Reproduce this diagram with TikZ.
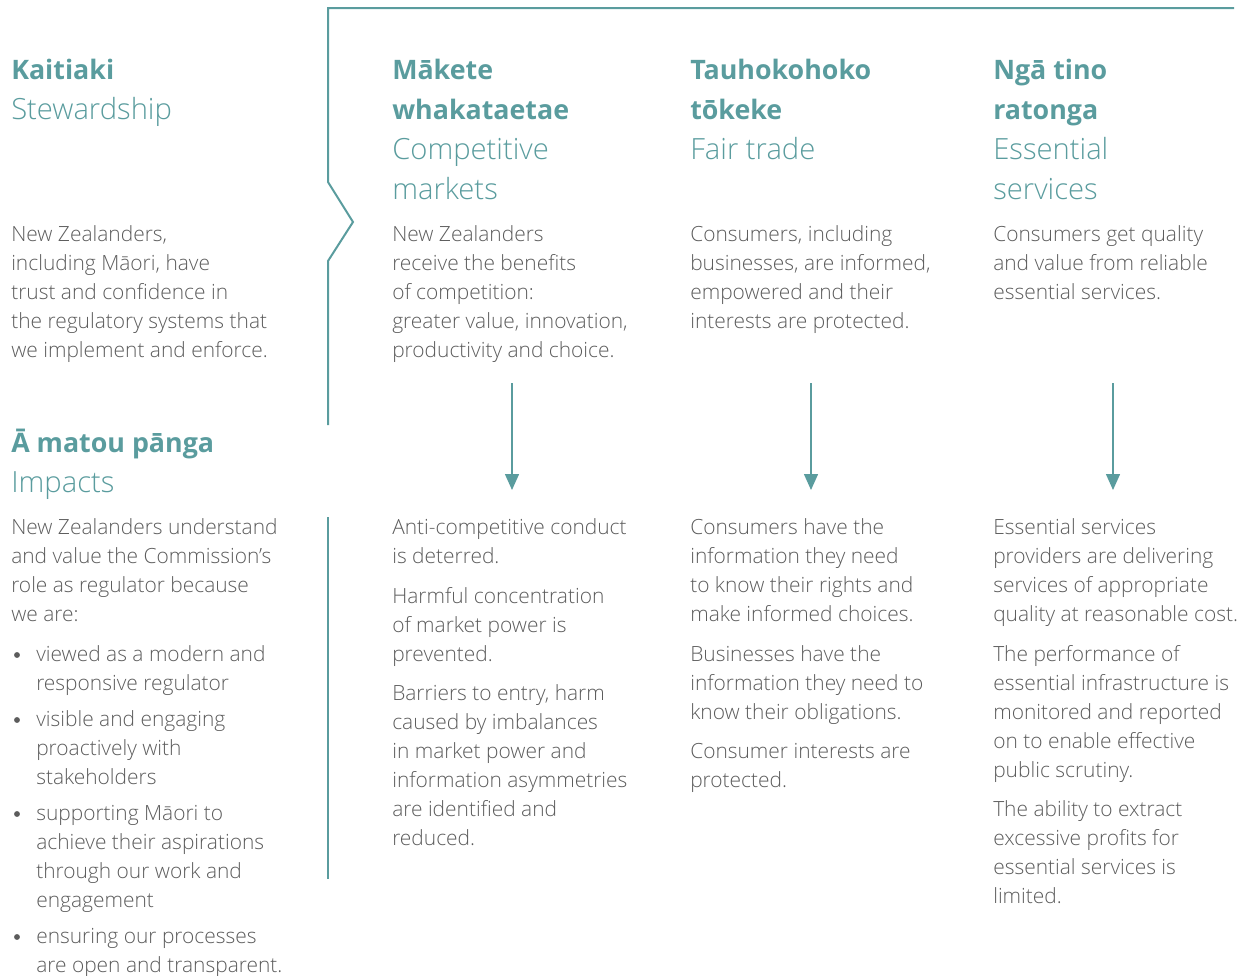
\documentclass[tikz,border=0pt]{standalone}
\usepackage{fontspec}
\setmainfont{Open Sans}[UprightFont={* Light},BoldFont={* Bold}]
\usetikzlibrary{arrows.meta}

\definecolor{brandteal}{HTML}{5A9C9E}
\definecolor{bodygray}{HTML}{5C5C5C}

% a paragraph whose reference point is the baseline of its first line
\newcommand{\parblock}[1]{\parbox[t]{330pt}{\raggedright #1}}
% heading lines: bold Māori title, light English subtitle
\newcommand{\titleline}[1]{{\fontsize{20.1}{30}\selectfont\bfseries #1}}

\tikzset{
  body/.style={anchor=base west, inner sep=0pt, text=bodygray,
    font=\fontsize{15.7}{21.75}\selectfont},
  head/.style={anchor=base west, inner sep=0pt, text=brandteal,
    font=\fontsize{21.9}{30}\selectfont},
  rule/.style={draw=brandteal, line width=1.5pt},
  flow/.style={draw=brandteal, line width=1.1pt,
    -{Triangle[width=10.5pt,length=12pt]}},
  dot/.style={circle, fill=bodygray, inner sep=0pt, minimum size=4.4pt},
}

\begin{document}
\begin{tikzpicture}[x=0.75pt,y=-0.75pt]
\useasboundingbox (0,0) rectangle (1246,975);

% ---- outcome headings ----
\node[head] (hK) at (11,79) {\parblock{\titleline{Kaitiaki}\\Stewardship}};
\node[head] (hM) at (392,79) {\parblock{\titleline{Mākete}\\\titleline{whakataetae}\\Competitive\\markets}};
\node[head] (hT) at (690,79) {\parblock{\titleline{Tauhokohoko}\\\titleline{tōkeke}\\Fair trade}};
\node[head] (hN) at (993,79) {\parblock{\titleline{Ngā tino}\\\titleline{ratonga}\\Essential\\services}};

% ---- outcome statements ----
\node[body] (oK) at (11,241) {\parblock{New Zealanders,\\including Māori, have\\trust and confidence in\\the regulatory systems that\\we implement and enforce.}};
\node[body] (oM) at (392,241) {\parblock{New Zealanders\\receive the benefits\\of competition:\\greater value, innovation,\\productivity and choice.}};
\node[body] (oT) at (690,241) {\parblock{Consumers, including\\businesses, are informed,\\empowered and their\\interests are protected.}};
\node[body] (oN) at (993,241) {\parblock{Consumers get quality\\and value from reliable\\essential services.}};

% ---- impacts heading ----
\node[head] (hI) at (11,452) {\parblock{\titleline{Ā matou pānga}\\Impacts}};

% ---- impacts, left column ----
\node[body] (iK1) at (11,534) {\parblock{New Zealanders understand\\and value the Commission’s\\role as regulator because\\we are:}};
\node[dot] (bK1) at (17,655) {};
\node[body] (iK2) at (36,661) {\parblock{viewed as a modern and\\responsive regulator}};
\node[dot] (bK2) at (17,720) {};
\node[body] (iK3) at (36,726) {\parblock{visible and engaging\\proactively with\\stakeholders}};
\node[dot] (bK3) at (17,814) {};
\node[body] (iK4) at (36,820) {\parblock{supporting Māori to\\achieve their aspirations\\through our work and\\engagement}};
\node[dot] (bK4) at (17,937) {};
\node[body] (iK5) at (36,943) {\parblock{ensuring our processes\\are open and transparent.}};

% ---- impacts, competitive markets ----
\node[body] (iM1) at (392,534) {\parblock{Anti-competitive conduct\\is deterred.}};
\node[body] (iM2) at (392,603) {\parblock{Harmful concentration\\of market power is\\prevented.}};
\node[body] (iM3) at (392,700) {\parblock{Barriers to entry, harm\\caused by imbalances\\in market power and\\information asymmetries\\are identified and\\reduced.}};

% ---- impacts, fair trade ----
\node[body] (iT1) at (690,534) {\parblock{Consumers have the\\information they need\\to know their rights and\\make informed choices.}};
\node[body] (iT2) at (690,661) {\parblock{Businesses have the\\information they need to\\know their obligations.}};
\node[body] (iT3) at (690,758) {\parblock{Consumer interests are\\protected.}};

% ---- impacts, essential services ----
\node[body] (iN1) at (993,534) {\parblock{Essential services\\providers are delivering\\services of appropriate\\quality at reasonable cost.}};
\node[body] (iN2) at (993,661) {\parblock{The performance of\\essential infrastructure is\\monitored and reported\\on to enable effective\\public scrutiny.}};
\node[body] (iN3) at (993,816) {\parblock{The ability to extract\\excessive profits for\\essential services is\\limited.}};

% ---- bracket framing the outcomes ----
\coordinate (brB) at (328,425);
\coordinate (brL) at (328,261);
\coordinate (brP) at (353,222);
\coordinate (brU) at (328,182);
\coordinate (brC) at (328,8);
\coordinate (brR) at (1234,8);
\draw[rule, line join=miter] (brB) -- (brL) -- (brP) -- (brU) -- (brC) -- (brR);

% ---- divider beside the impacts ----
\coordinate (dvT) at (328,517);
\coordinate (dvB) at (328,879);
\draw[rule] (dvT) -- (dvB);

% ---- outcome-to-impact arrows ----
\coordinate (aMs) at (512,383);
\coordinate (aMe) at (512,490);
\coordinate (aTs) at (811,383);
\coordinate (aTe) at (811,490);
\coordinate (aNs) at (1113,383);
\coordinate (aNe) at (1113,490);
\draw[flow] (aMs) -- (aMe);
\draw[flow] (aTs) -- (aTe);
\draw[flow] (aNs) -- (aNe);
\end{tikzpicture}
\end{document}
